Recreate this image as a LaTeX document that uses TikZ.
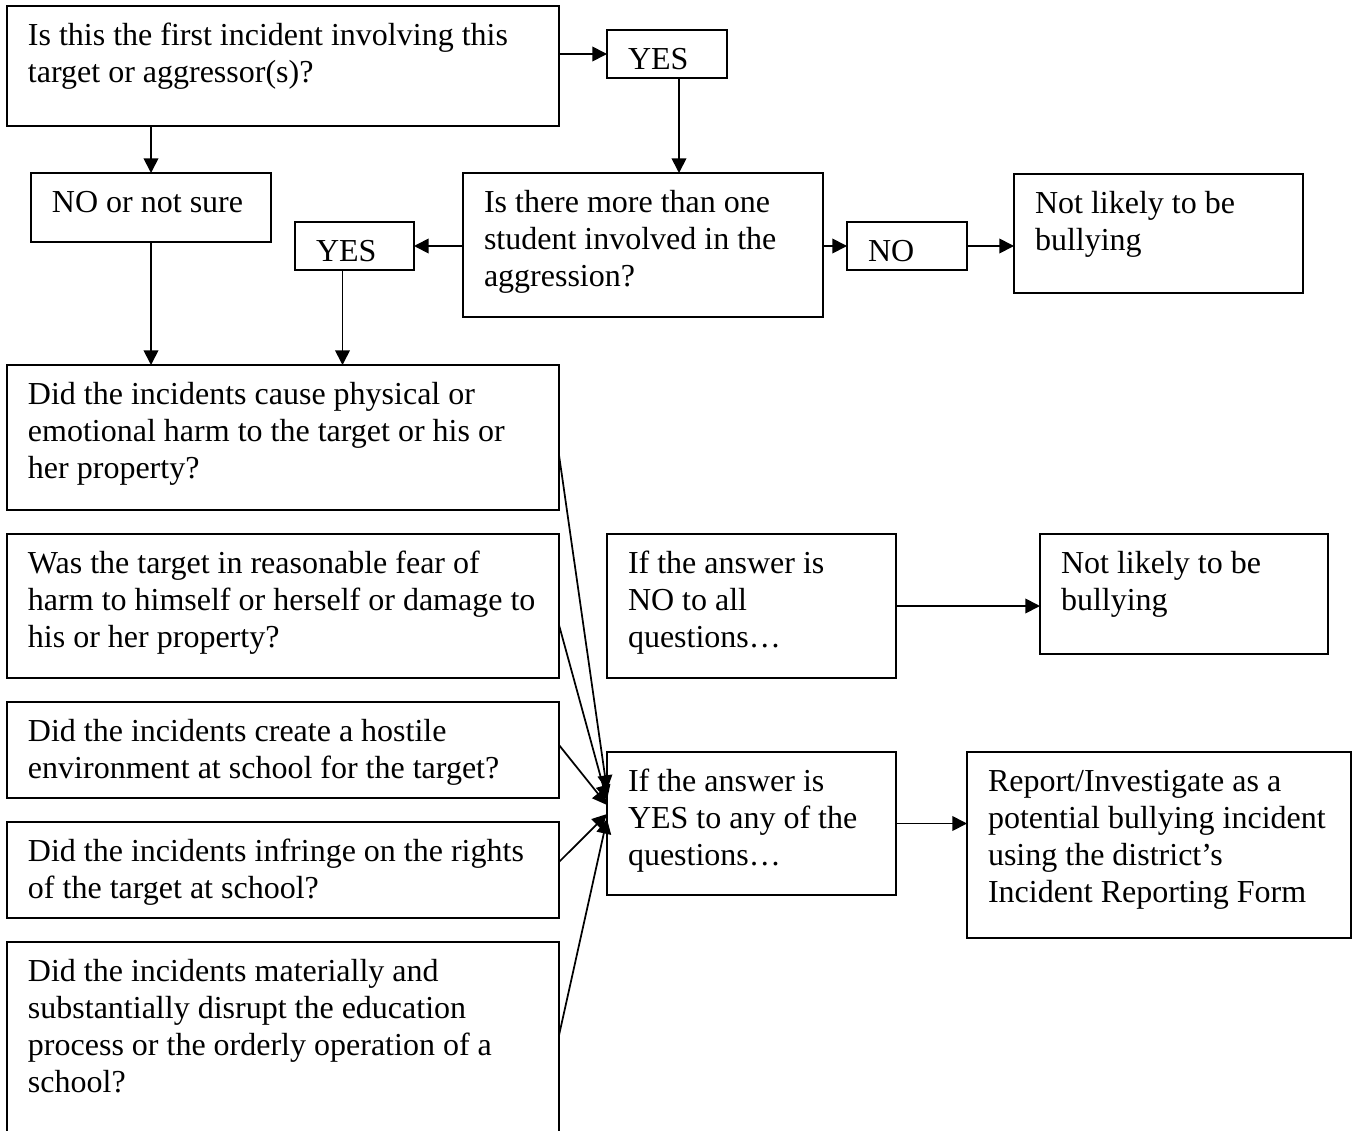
\documentclass[tikz,border=0pt]{standalone}
\usepackage{fontspec}
\setmainfont{Liberation Serif}
\usetikzlibrary{arrows.meta}
\newdimen\px \px=0.75pt
% box content: width, height (px), text
\newcommand{\boxtext}[3]{%
  \begin{minipage}[t][#2\px][t]{#1\px}%
    \leftskip=15.75pt \rightskip=3pt plus 1fil \parindent=0pt
    \vspace*{14\px}\strut #3%
  \end{minipage}}
\begin{document}
\begin{tikzpicture}[x=0.75pt, y=-0.75pt,
    box/.style={draw, line width=1.6pt, anchor=north west, inner sep=0pt,
      outer sep=0pt, font=\fontsize{24}{27.75}\selectfont},
    arr/.style={-{Triangle[length=11pt,width=11pt]}, line width=1.3pt}]
  \useasboundingbox (0,0) rectangle (1356,1131);
  % first question
  \node[box] (first) at (7,6) {\boxtext{552}{120}{Is this the first incident involving this\\target or aggressor(s)?}};
  \node[box] (yesa) at (607,30) {\boxtext{120}{48}{YES}};
  \node[box] (notsure) at (31,173) {\boxtext{240}{69}{NO or not sure}};
  \node[box] (more) at (463,173) {\boxtext{360}{144}{Is there more than one\\student involved in the\\aggression?}};
  \node[box] (yesb) at (295,222) {\boxtext{119}{48}{YES}};
  \node[box] (nob) at (847,222) {\boxtext{120}{48}{NO}};
  \node[box] (notlikelya) at (1014,174) {\boxtext{289}{119}{Not likely to be\\bullying}};
  % criteria
  \node[box] (qharm) at (7,365) {\boxtext{552}{145}{Did the incidents cause physical or\\emotional harm to the target or his or\\her property?}};
  \node[box] (qfear) at (7,534) {\boxtext{552}{144}{Was the target in reasonable fear of\\harm to himself or herself or damage to\\his or her property?}};
  \node[box] (qhostile) at (7,702) {\boxtext{552}{96}{Did the incidents create a hostile\\environment at school for the target?}};
  \node[box] (qrights) at (7,822) {\boxtext{552}{96}{Did the incidents infringe on the rights\\of the target at school?}};
  \node[box] (qdisrupt) at (7,942) {\boxtext{552}{200}{Did the incidents materially and\\substantially disrupt the education\\process or the orderly operation of a\\school?}};
  % outcomes
  \node[box] (noall) at (607,534) {\boxtext{289}{144}{If the answer is\\NO to all\\questions…}};
  \node[box] (notlikelyb) at (1040,534) {\boxtext{288}{120}{Not likely to be\\bullying}};
  \node[box] (yesany) at (607,752) {\boxtext{289}{143}{If the answer is\\YES to any of the\\questions…}};
  \node[box] (report) at (967,752) {\boxtext{384}{186}{Report/Investigate as a\\potential bullying incident\\using the district’s\\Incident Reporting Form}};
  \begin{scope}[arr]
    \draw (first.east |- yesa.west) -- (yesa.west);
    \draw ([xshift=9pt]yesa.south) -- ([xshift=9pt]yesa.south |- more.north);
    \draw (first.south -| notsure.north) -- (notsure.north);
    \draw (more.west |- yesb.east) -- (yesb.east);
    \draw (more.east |- nob.west) -- (nob.west);
    \draw (nob.east) -- (nob.east -| notlikelya.west);
    \draw (notsure.south) -- (notsure.south |- qharm.north);
    \draw ([xshift=-9pt]yesb.south) -- ([xshift=-9pt]yesb.south |- qharm.north);
    \draw (noall.east) -- (noall.east -| notlikelyb.west);
    \draw (yesany.east) -- (yesany.east -| report.west);
    % all criteria into the YES box
    \draw ([yshift=-13.1pt]qharm.east) -- ([yshift=25.1pt]yesany.west);
    \draw ([yshift=-14.25pt]qfear.east) -- ([yshift=17.6pt]yesany.west);
    \draw ([yshift=3.75pt]qhostile.east) -- ([yshift=13.9pt]yesany.west);
    \draw ([yshift=6pt]qrights.east) -- ([yshift=7.1pt]yesany.west);
    \draw ([yshift=5pt]qdisrupt.east) -- ([yshift=3.4pt]yesany.west);
  \end{scope}
\end{tikzpicture}
\end{document}
